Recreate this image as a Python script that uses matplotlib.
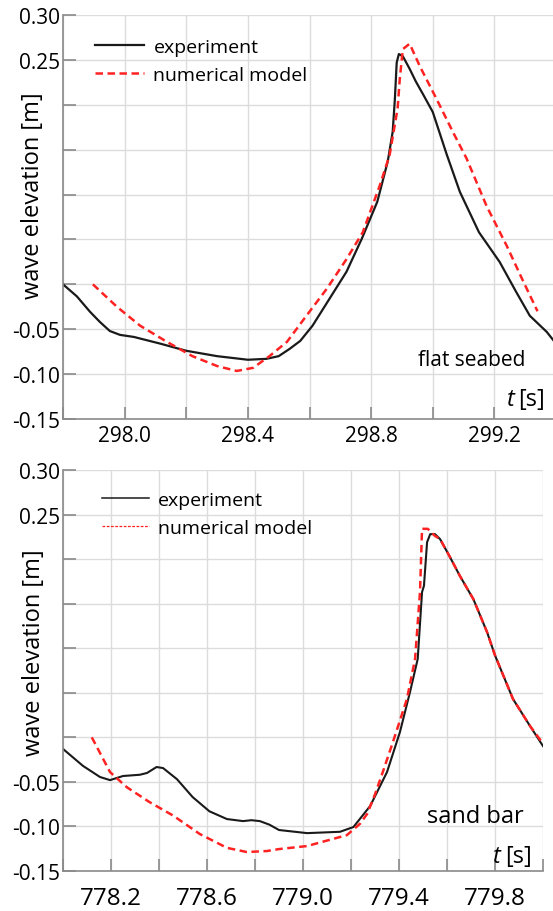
import matplotlib
matplotlib.use("Agg")
import matplotlib.pyplot as plt
from matplotlib.lines import Line2D
from matplotlib.ticker import FixedLocator, FixedFormatter

# flat seabed (upper panel)
exp_flat_t = [297.80, 297.845, 297.888, 297.92, 297.952, 297.985, 298.03, 298.115, 298.20, 298.30,
              298.40, 298.46, 298.50, 298.535, 298.57, 298.61, 298.665, 298.72, 298.77, 298.82,
              298.854, 298.870, 298.877, 298.883, 298.890, 298.903, 298.925, 298.945, 298.968,
              299.00, 299.045, 299.088, 299.15, 299.217, 299.27, 299.315, 299.37, 299.40]
exp_flat_eta = [0.000, -0.0134, -0.0307, -0.042, -0.052, -0.0563, -0.0586, -0.066, -0.074, -0.080,
                -0.084, -0.083, -0.080, -0.072, -0.063, -0.046, -0.016, 0.014, 0.051, 0.092,
                0.137, 0.170, 0.206, 0.247, 0.2565, 0.254, 0.240, 0.226, 0.212,
                0.192, 0.145, 0.103, 0.058, 0.025, -0.008, -0.035, -0.053, -0.066]

num_flat_t = [297.897, 297.975, 298.05, 298.137, 298.22, 298.30, 298.364, 298.417, 298.47, 298.527,
              298.59, 298.656, 298.72, 298.773, 298.828, 298.86, 298.886, 298.893, 298.903, 298.925,
              298.958, 299.013, 299.065, 299.11, 299.175, 299.24, 299.29, 299.34]
num_flat_eta = [0.000, -0.025, -0.046, -0.064, -0.080, -0.091, -0.0965, -0.093, -0.080, -0.064,
                -0.035, -0.005, 0.028, 0.058, 0.110, 0.144, 0.196, 0.229, 0.262, 0.268,
                0.243, 0.206, 0.170, 0.140, 0.087, 0.043, 0.006, -0.030]

# sand bar (lower panel)
exp_bar_t = [778.00, 778.083, 778.154, 778.196, 778.25, 778.32, 778.35, 778.39, 778.417, 778.475,
             778.54, 778.61, 778.683, 778.75, 778.785, 778.82, 778.86, 778.90, 779.017, 779.154,
             779.21, 779.28, 779.35, 779.404, 779.446, 779.478, 779.496, 779.504, 779.517, 779.53,
             779.55, 779.571, 779.61, 779.654, 779.71, 779.767, 779.80, 779.875, 779.946, 780.00]
exp_bar_eta = [-0.013, -0.032, -0.0445, -0.048, -0.0434, -0.042, -0.040, -0.0333, -0.0345, -0.047,
               -0.067, -0.083, -0.0917, -0.094, -0.093, -0.094, -0.098, -0.104, -0.1075, -0.106,
               -0.1007, -0.077, -0.039, 0.006, 0.051, 0.088, 0.163, 0.170, 0.219, 0.228,
               0.228, 0.2225, 0.2035, 0.181, 0.155, 0.118, 0.092, 0.043, 0.0127, -0.0098]

num_bar_t = [778.12, 778.196, 778.266, 778.36, 778.46, 778.57, 778.683, 778.766, 778.85, 778.90,
             779.017, 779.125, 779.183, 779.2375, 779.267, 779.30, 779.335, 779.375, 779.433, 779.467,
             779.4875, 779.496, 779.52, 779.55, 779.571, 779.61, 779.654, 779.71, 779.767, 779.80,
             779.875, 779.946, 780.00]
num_bar_eta = [0.000, -0.039, -0.056, -0.0726, -0.088, -0.1085, -0.124, -0.1287, -0.1276, -0.1254,
               -0.122, -0.114, -0.1097, -0.097, -0.086, -0.064, -0.037, -0.005, 0.043, 0.088,
               0.163, 0.234, 0.234, 0.226, 0.2225, 0.2035, 0.181, 0.155, 0.118, 0.092,
               0.043, 0.0127, -0.007]

y_ticks = [-0.15, -0.10, -0.05, 0.00, 0.05, 0.10, 0.15, 0.20, 0.25, 0.30]
y_labels = ["-0.15", "-0.10", "-0.05", "", "", "", "", "", "0.25", "0.30"]

flat_xticks = [297.8, 298.0, 298.2, 298.4, 298.6, 298.8, 299.0, 299.2, 299.4]
flat_xlabels = ["", "298.0", "", "298.4", "", "298.8", "", "299.2", ""]
bar_xticks = [778.0, 778.2, 778.4, 778.6, 778.8, 779.0, 779.2, 779.4, 779.6, 779.8, 780.0]
bar_xlabels = ["", "778.2", "", "778.6", "", "779.0", "", "779.4", "", "779.8", ""]

BLACK = "#1a1a1a"
RED = "#ff2222"
SPINE = "#8a8a8a"
GRID = "#dcdcdc"

plt.rcParams.update({
    "font.family": ["Open Sans", "DejaVu Sans"],
    "axes.spines.top": False,
    "axes.spines.right": False,
})


def style_axes(ax, xlim, xticks, xlabels, xsize, xpad):
    ax.set_xlim(*xlim)
    ax.set_ylim(-0.15, 0.30)
    ax.xaxis.set_major_locator(FixedLocator(xticks))
    ax.xaxis.set_major_formatter(FixedFormatter(xlabels))
    ax.yaxis.set_major_locator(FixedLocator(y_ticks))
    ax.yaxis.set_major_formatter(FixedFormatter(y_labels))
    ax.grid(True, color=GRID, linewidth=1.0)
    ax.set_axisbelow(True)
    for side in ("left", "bottom"):
        ax.spines[side].set_color(SPINE)
        ax.spines[side].set_linewidth(1.2)
    ax.tick_params(axis="both", direction="in", length=9, width=1.2, color=SPINE)
    ax.tick_params(axis="x", labelsize=xsize, pad=xpad)
    ax.tick_params(axis="y", labelsize=15, pad=2)
    ax.set_ylabel("wave elevation [m]", fontsize=17, va="center")


fig = plt.figure(figsize=(5.53, 9.12), dpi=100)
ax1 = fig.add_axes([63 / 553, 1 - 420 / 912, 493 / 553, 404 / 912])
ax2 = fig.add_axes([63 / 553, 1 - 872 / 912, 480 / 553, 401 / 912])

# upper panel
style_axes(ax1, (297.8, 299.4), flat_xticks, flat_xlabels, 15, 4)
ax1.plot(exp_flat_t, exp_flat_eta, color=BLACK, linewidth=1.6, label="experiment")
ax1.plot(num_flat_t, num_flat_eta, color=RED, linewidth=1.8, dashes=(3.0, 1.8),
         label="numerical model")
ax1.yaxis.set_label_coords(-0.061, 0.554)
ax1.legend(loc="upper left", bbox_to_anchor=(0.065, 0.943), frameon=False, fontsize=14,
           borderpad=0, borderaxespad=0, handlelength=2.5, handletextpad=0.5, labelspacing=0.5)
ax1.text(0.720, 0.1485, "flat seabed", transform=ax1.transAxes, fontsize=15, va="center", ha="left")
ax1.text(0.9006, 0.0495, "t", transform=ax1.transAxes, fontsize=17, style="italic",
         va="center", ha="left")
ax1.text(0.978, 0.0495, "[s]", transform=ax1.transAxes, fontsize=17, va="center", ha="right")

# lower panel
style_axes(ax2, (778.0, 780.0), bar_xticks, bar_xlabels, 17.5, 11)
ax2.plot(exp_bar_t, exp_bar_eta, color=BLACK, linewidth=1.5)
ax2.plot(num_bar_t, num_bar_eta, color=RED, linewidth=1.8, dashes=(3.0, 1.8))
ax2.yaxis.set_label_coords(-0.061, 0.546)
handles = [Line2D([], [], color=BLACK, linewidth=1.1),
           Line2D([], [], color=RED, linewidth=0.9, dashes=(2.2, 1.2))]
ax2.legend(handles, ["experiment", "numerical model"], loc="upper left",
           bbox_to_anchor=(0.081, 0.947), frameon=False, fontsize=14,
           borderpad=0, borderaxespad=0, handlelength=2.4, handletextpad=0.5, labelspacing=0.5)
ax2.text(0.758, 0.137, "sand bar", transform=ax2.transAxes, fontsize=17, va="center", ha="left")
ax2.text(0.896, 0.037, "t", transform=ax2.transAxes, fontsize=17, style="italic",
         va="center", ha="left")
ax2.text(0.977, 0.037, "[s]", transform=ax2.transAxes, fontsize=17, va="center", ha="right")

fig.savefig("out.png", dpi=100)
